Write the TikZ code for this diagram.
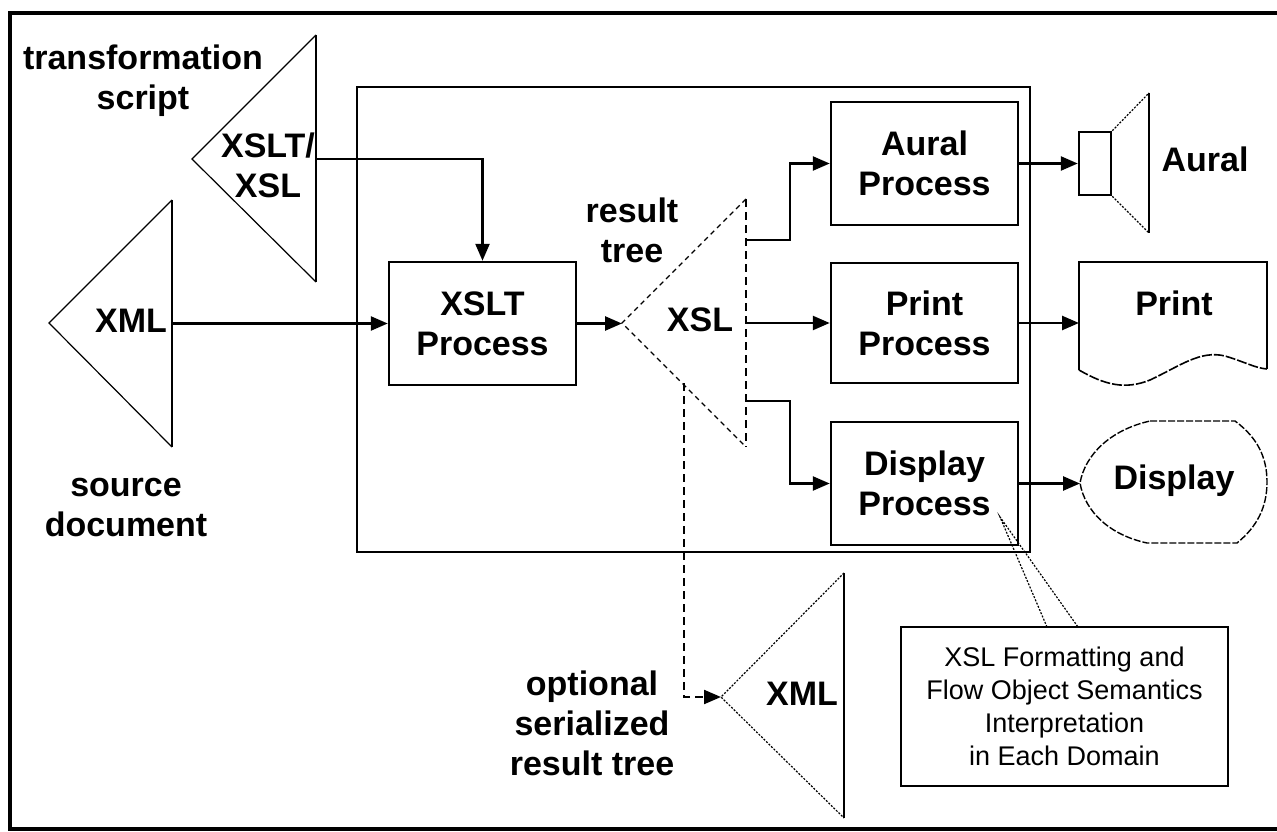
\documentclass[tikz,border=0pt]{standalone}
\usepackage{fontspec}
\setmainfont{Liberation Sans}
\usetikzlibrary{arrows.meta}
\begin{document}
\begin{tikzpicture}[x=1pt,y=-1pt,
  lbl/.style={font=\fontsize{34}{40}\selectfont\bfseries, align=center, inner sep=0pt},
  proc/.style={draw, line width=2.5pt, minimum width=187pt, minimum height=121pt, inner sep=0pt,
     font=\fontsize{34}{40}\selectfont\bfseries, align=center},
  conn/.style={line width=2.5pt, -{Triangle[length=17pt,width=14pt]}},
  edgeline/.style={line width=2.5pt},
  thinline/.style={line width=1.2pt},
  dsh/.style={line width=1.3pt, dash pattern=on 5pt off 4pt},
  dsh2/.style={line width=2.2pt, dash pattern=on 8pt off 5pt},
  dotl/.style={line width=1.2pt, dash pattern=on 2pt off 1.5pt},
]
\useasboundingbox (0,0) rectangle (1277,832);
\fill[white] (0,0) rectangle (1277,832);
% outer frame
\draw[line width=4pt] (1277,13) -- (10,13) -- (10,829) -- (1277,829);
% inner system rectangle
\draw[line width=2.5pt] (357,87) rectangle (1030,552);

% ---- XSLT/XSL triangle
\draw[thinline] (316,35) -- (192,159) -- (316,282);
\draw[edgeline] (316,35) -- (316,282);
\node[lbl] (xsltxt) at (268,165) {XSLT/\\XSL};
\coordinate (xslR) at (316,159);
\node[lbl] (transf) at (143,81) {transformation\\script};

% ---- XML source triangle
\draw[thinline] (172,200) -- (49,323) -- (172,447);
\draw[edgeline] (172,200) -- (172,447);
\node[lbl] (xmltxt) at (131,321) {XML};
\coordinate (xmlR) at (172,323.5);
\node[lbl] (srcdoc) at (126,508) {source\\document};

% ---- XSLT Process
\node[proc, minimum height=123pt] (xsltp) at (482.5,323.5) {XSLT\\Process};

% ---- result tree triangle
\draw[dsh] (746,199) -- (622,323) -- (746,447);
\draw[dsh2] (746,199) -- (746,447);
\coordinate (rtA) at (622,323.5);
\node[lbl] (rtxsl) at (700,320) {XSL};
\node[lbl] (rtlbl) at (632,230) {result\\tree};
\coordinate (rtB1) at (746,240);
\coordinate (rtB2) at (746,323);
\coordinate (rtB3) at (746,401);
\coordinate (rtD) at (684,383);
\coordinate (bus) at (790,0);

% ---- process boxes
\node[proc, minimum height=123pt] (aural) at (924.5,163.5) {Aural\\Process};
\node[proc, minimum height=120pt] (print) at (924.5,323) {Print\\Process};
\node[proc, minimum height=123pt] (disp) at (924.5,483.5) {Display\\Process};

% ---- speaker
\node[draw, line width=2.5pt, minimum width=32pt, minimum height=63pt, inner sep=0pt] (spk) at (1095,163.5) {};
\draw[dotl] (spk.north east) -- (1149,93);
\draw[dotl] (spk.south east) -- (1149,233);
\draw[thinline] (1149,93) -- (1149,233);
\node[lbl] (aurallbl) at (1205,159) {Aural};

% ---- print document
\draw[line width=1.6pt] (1079,370) -- (1079,262) -- (1267,262) -- (1267,369);
\draw[line width=1.6pt, dash pattern=on 10pt off 2pt] (1079,370) .. controls (1105,385) and (1125,390) .. (1150,380)
   .. controls (1180,366) and (1200,350) .. (1225,356) .. controls (1245,362) and (1255,368) .. (1267,369);
\coordinate (printL) at (1079,323);
\node[lbl] (printlbl) at (1174,303) {Print};

% ---- display shape
\draw[line width=1.4pt, dash pattern=on 7pt off 2pt] (1150,421) -- (1235,421)
   .. controls (1258,438) and (1267,458) .. (1267,482)
   .. controls (1267,506) and (1258,526) .. (1237,543) -- (1147,543)
   .. controls (1110,535) and (1085,512) .. (1080,483)
   .. controls (1085,455) and (1110,430) .. (1150,421);
\coordinate (dispL) at (1080,483.5);
\node[lbl] (displbl) at (1174,481) {Display};

% ---- serialized XML triangle
\draw[dotl] (844,573) -- (721,697) -- (844,818);
\draw[line width=1.6pt] (844,573) -- (844,818);
\coordinate (xml2A) at (721,697);
\node[lbl] (xml2txt) at (802,694) {XML};
\node[lbl] (optlbl) at (592,723) {optional\\serialized\\result tree};

% ---- callout
\node[draw, line width=1.2pt, minimum width=327pt, minimum height=159pt, inner sep=0pt,
      font=\fontsize{27}{33}\selectfont, align=center] (callout) at (1064.5,706.5)
  {XSL Formatting and\\Flow Object Semantics\\Interpretation\\in Each Domain};
\coordinate (ptip) at (1000,517);
\coordinate (cpL) at (1047,627);
\coordinate (cpR) at (1078,627);
\draw[dotl] (cpL) -- (ptip) -- (cpR);

% ---- connectors
\draw[conn] (xslR) -| (xsltp.north);
\draw[conn] (xmlR) -- (xsltp.west);
\draw[conn] (xsltp.east) -- (rtA);
\draw[conn] (rtB1) -- (rtB1 -| bus) |- (aural.west);
\draw[conn] (rtB2) -- (print.west);
\draw[conn] (rtB3) -- (rtB3 -| bus) |- (disp.west);
\draw[conn] (aural.east) -- (spk.west);
\draw[conn] (print.east) -- (printL);
\draw[conn] (disp.east) -- (dispL);
\draw[dsh2, -{Triangle[length=17pt,width=14pt]}] (rtD) |- (xml2A);
\end{tikzpicture}
\end{document}
